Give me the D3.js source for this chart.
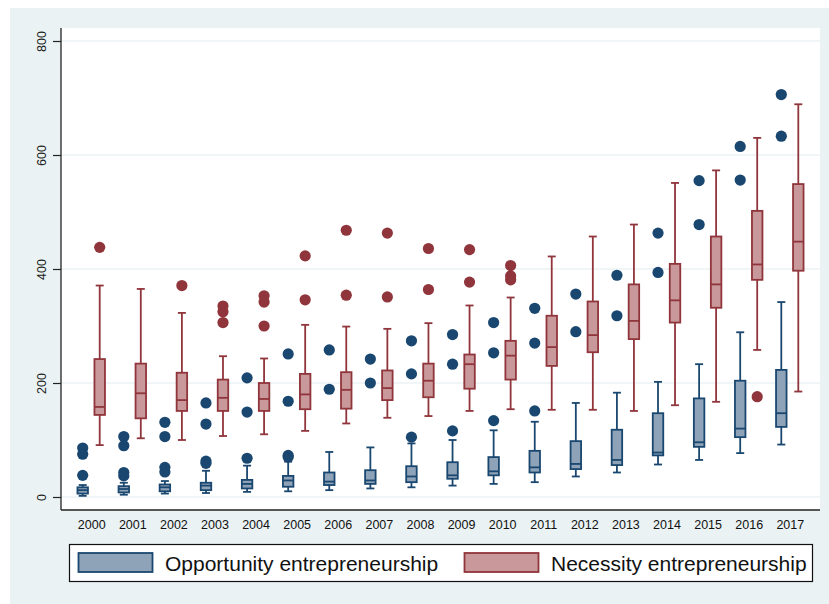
<!DOCTYPE html>
<html>
  <head>
    <title>Opportunity vs necessity entrepreneurship</title>
    <script src="https://d3js.org/d3.v7.min.js"></script>
    <style>
      body { margin: 0; }
      svg { font-family: "Liberation Sans", Arial, sans-serif; }
      .grid line { stroke: #e2ecf0; stroke-width: 1.2; }
    </style>
  </head>
  <body>
    <svg width="829" height="604"></svg>

    <script>
      var years = ["2000","2001","2002","2003","2004","2005","2006","2007","2008",
                   "2009","2010","2011","2012","2013","2014","2015","2016","2017"];
      var yTicks = [0, 200, 400, 600, 800];
      var seriesNames = ["Opportunity entrepreneurship", "Necessity entrepreneurship"];

      // opportunity: lower whisker, q1, median, q3, upper whisker, outliers
      var oppLow  = [2, 4, 6, 7, 9, 10, 12, 15, 17, 20, 23, 26, 36, 43, 57, 65, 77, 92];
      var oppQ1   = [6, 8, 10, 12, 15, 18, 21, 23, 26, 32, 38, 43, 49, 56, 73, 88, 105, 123];
      var oppMed  = [12, 14, 17, 20, 23, 29, 27, 29, 36, 38, 45, 52, 58, 65, 78, 96, 120, 147];
      var oppQ3   = [17, 19, 22, 25, 30, 37, 43, 47, 54, 61, 70, 81, 98, 118, 147, 173, 204, 223];
      var oppHigh = [21, 25, 28, 46, 55, 62, 79, 87, 94, 100, 117, 132, 165, 183, 202, 233, 289, 342];
      var oppOut  = [[86,75,38], [106,90,43,37], [131,106,52,44], [165,128,63,59], [209,149,68],
                     [251,168,73,70], [258,189], [242,200], [274,216,105], [285,233,116],
                     [306,253,134], [331,270,151], [356,290], [389,318], [463,394],
                     [555,478], [615,556], [706,633]];

      // necessity
      var necLow  = [91, 103, 100, 107, 110, 116, 129, 139, 142, 151, 154, 153, 153, 151, 161, 167, 258, 185];
      var necQ1   = [144, 138, 151, 151, 151, 154, 155, 170, 175, 190, 206, 230, 254, 277, 306, 332, 381, 397];
      var necMed  = [158, 182, 170, 174, 172, 180, 188, 191, 204, 233, 248, 263, 284, 309, 345, 373, 408, 448];
      var necQ3   = [242, 234, 218, 206, 200, 216, 219, 222, 234, 250, 274, 318, 343, 373, 409, 457, 502, 549];
      var necHigh = [371, 365, 323, 247, 243, 302, 299, 295, 305, 336, 350, 422, 457, 478, 551, 573, 630, 689];
      var necOut  = [[438], [], [371], [335,325,306], [353,342,300], [423,346], [468,354], [463,351],
                     [436,364], [434,377], [406,388,381], [], [], [], [], [], [176], []];

      var colors = {
        line: ["#1a476f", "#90353b"],
        fill: ["#8fa3b8", "#c8989b"]
      };

      var plot = { left: 61, right: 820, top: 28, bottom: 510 };

      var svg = d3.select("svg");

      svg.append("rect")
        .attr("x", 10).attr("y", 8)
        .attr("width", 819).attr("height", 596)
        .style("fill", "#eaf2f3");

      svg.append("rect")
        .attr("x", plot.left).attr("y", plot.top)
        .attr("width", plot.right - plot.left).attr("height", plot.bottom - plot.top)
        .style("fill", "#ffffff");

      var y = d3.scaleLinear().domain([0, 800]).range([497, 41]);
      var x = d3.scalePoint().domain(years).range([plot.left, plot.right]).padding(0.735);
      var xSub = d3.scalePoint().domain([0, 1]).range([-8.5, 8.5]);

      // gridlines
      svg.append("g").attr("class", "grid")
        .selectAll("line")
        .data(yTicks)
        .enter()
        .append("line")
          .attr("x1", plot.left).attr("x2", plot.right)
          .attr("y1", d => y(d)).attr("y2", d => y(d));

      // y axis
      var yAxis = svg.append("g")
        .attr("transform", `translate(${plot.left},0)`)
        .call(d3.axisLeft(y).tickValues(yTicks).tickSize(8).tickFormat(d3.format("d")));
      yAxis.select(".domain").remove();
      yAxis.selectAll(".tick line").style("stroke", "#222").style("stroke-width", 1.2);
      yAxis.selectAll(".tick text")
        .attr("x", null).attr("dy", "0.35em")
        .attr("transform", "translate(-19,0) rotate(-90)")
        .style("text-anchor", "middle")
        .style("font-size", "12.5px")
        .style("fill", "#222");

      // x axis labels
      var xAxis = svg.append("g")
        .attr("transform", `translate(0,${plot.bottom})`)
        .call(d3.axisBottom(x).tickSize(0).tickPadding(10));
      xAxis.select(".domain").remove();
      xAxis.selectAll(".tick text")
        .style("font-size", "12.5px")
        .style("fill", "#111");

      svg.append("line")
        .attr("x1", plot.left).attr("x2", plot.left)
        .attr("y1", plot.top).attr("y2", plot.bottom)
        .style("stroke", "#222").style("stroke-width", 1.3);
      svg.append("line")
        .attr("x1", plot.left).attr("x2", plot.right)
        .attr("y1", plot.bottom).attr("y2", plot.bottom)
        .style("stroke", "#222").style("stroke-width", 1.3);

      // build rows per series
      function makeRows(s, lo, q1, med, q3, hi, out) {
        return years.map((yr, i) => ({
          year: yr, s: s, lo: lo[i], q1: q1[i], med: med[i], q3: q3[i], hi: hi[i], out: out[i]
        }));
      }
      var rows = makeRows(0, oppLow, oppQ1, oppMed, oppQ3, oppHigh, oppOut)
        .concat(makeRows(1, necLow, necQ1, necMed, necQ3, necHigh, necOut));

      var boxW = 10.5, capW = 8;

      var boxes = svg.selectAll("g.box")
        .data(rows)
        .enter()
        .append("g")
          .attr("class", "box")
          .attr("transform", d => `translate(${x(d.year) + xSub(d.s)},0)`)
          .style("stroke", d => colors.line[d.s])
          .style("stroke-width", 1.8);

      boxes.append("line")
        .attr("y1", d => y(d.lo)).attr("y2", d => y(d.q1));
      boxes.append("line")
        .attr("y1", d => y(d.q3)).attr("y2", d => y(d.hi));
      boxes.append("line")
        .attr("x1", -capW / 2).attr("x2", capW / 2)
        .attr("y1", d => y(d.lo)).attr("y2", d => y(d.lo));
      boxes.append("line")
        .attr("x1", -capW / 2).attr("x2", capW / 2)
        .attr("y1", d => y(d.hi)).attr("y2", d => y(d.hi));
      boxes.append("rect")
        .attr("x", -boxW / 2).attr("width", boxW)
        .attr("y", d => y(d.q3)).attr("height", d => y(d.q1) - y(d.q3))
        .style("fill", d => colors.fill[d.s]);
      boxes.append("line")
        .attr("x1", -boxW / 2).attr("x2", boxW / 2)
        .attr("y1", d => y(d.med)).attr("y2", d => y(d.med));

      boxes.selectAll("circle")
        .data(d => d.out.map(v => ({ v: v, s: d.s })))
        .enter()
        .append("circle")
          .attr("r", 5.6)
          .attr("cy", d => y(d.v))
          .style("stroke", "none")
          .style("fill", d => colors.line[d.s]);

      // legend
      var legend = svg.append("g");
      legend.append("rect")
        .attr("x", 69.5).attr("y", 544.5)
        .attr("width", 743).attr("height", 37)
        .style("fill", "#fff").style("stroke", "#111").style("stroke-width", 1.2);

      var legendX = [78, 464];
      var items = legend.selectAll("g.item")
        .data(seriesNames)
        .enter()
        .append("g")
          .attr("class", "item")
          .attr("transform", (d, i) => `translate(${legendX[i]},0)`);
      items.append("rect")
        .attr("x", 0.5).attr("y", 553)
        .attr("width", 74).attr("height", 19)
        .style("fill", (d, i) => colors.fill[i])
        .style("stroke", (d, i) => colors.line[i])
        .style("stroke-width", 1.8);
      items.append("text")
        .attr("x", 87).attr("y", 570.5)
        .style("font-size", "21px")
        .style("fill", "#111")
        .text(d => d);
    </script>
  </body>
</html>
